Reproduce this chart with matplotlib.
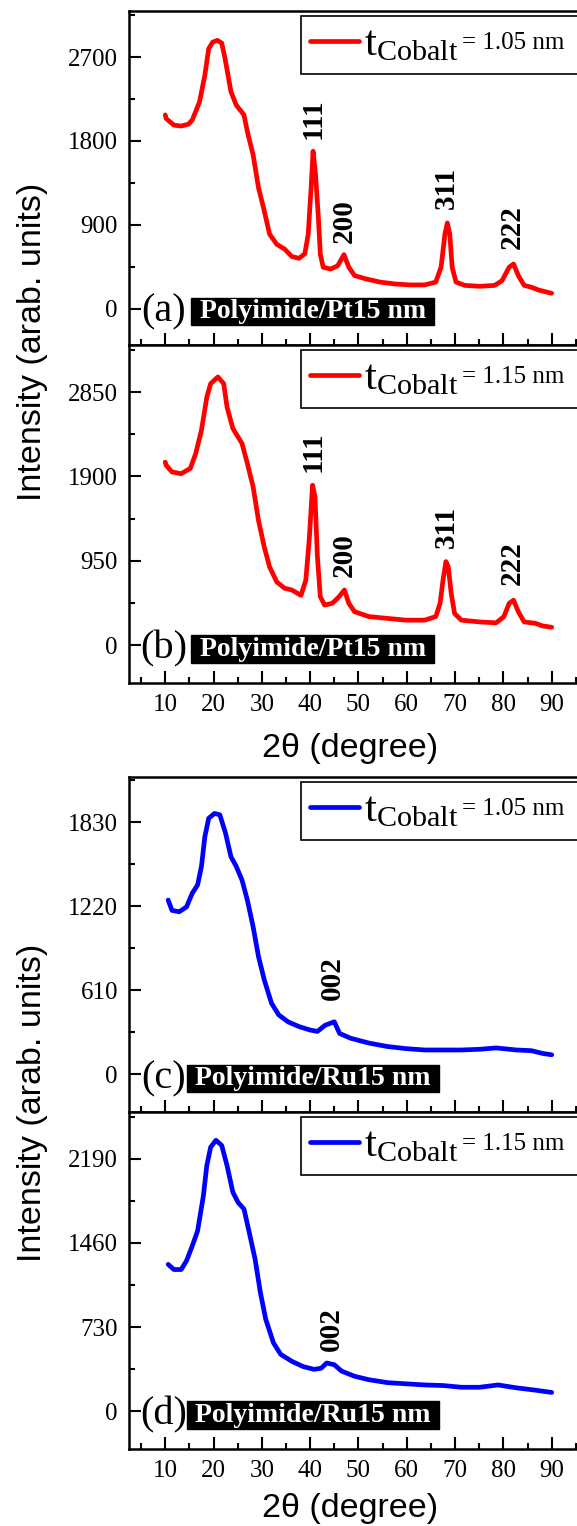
import numpy as np
import matplotlib
matplotlib.use("Agg")
import matplotlib.pyplot as plt
from matplotlib.ticker import MultipleLocator, AutoMinorLocator

# --- data (2theta in degree, intensity in arb. units) ---
pt_105_x = [10.0, 10.2, 11.8, 13.3, 14.8, 15.6, 17.1, 18.2, 19.0, 19.8, 20.8, 21.7, 22.4, 23.6,
            24.7, 26.3, 27.0, 28.2, 29.3, 30.5, 31.6, 33.1, 34.7, 36.2, 37.7, 38.9, 39.6, 40.2,
            40.6, 41.1, 41.7, 42.1, 42.7, 44.2, 45.7, 47.0, 48.0, 49.2, 51.5, 54.5, 57.6, 60.6,
            63.7, 66.0, 67.1, 67.9, 68.4, 68.9, 69.4, 70.2, 72.0, 75.1, 78.2, 79.7, 81.2, 82.1,
            83.1, 84.3, 85.8, 87.3, 88.8, 90.0]
pt_105_y = [2080, 2040, 1970, 1960, 1980, 2025, 2220, 2505, 2790, 2860, 2880, 2850, 2680, 2330,
            2185, 2080, 1900, 1650, 1300, 1050, 800, 690, 640, 560, 540, 590, 800, 1300,
            1690, 1450, 980, 585, 445, 425, 460, 580, 445, 355, 320, 285, 265, 255,
            255, 285, 445, 800, 920, 800, 445, 285, 250, 240, 250, 300, 445, 480,
            355, 250, 230, 200, 180, 165]

pt_115_x = [10.0, 10.2, 11.4, 13.3, 15.2, 16.3, 17.5, 18.6, 19.4, 20.9, 22.1, 22.8, 24.0, 25.9,
            27.0, 28.2, 29.3, 30.5, 31.6, 33.1, 34.7, 36.2, 38.1, 39.1, 39.8, 40.5, 41.0, 41.5,
            42.1, 43.0, 44.6, 46.0, 47.1, 48.0, 49.2, 52.2, 56.0, 59.8, 63.7, 66.0, 66.9, 67.5,
            68.1, 68.6, 69.2, 69.9, 71.3, 75.1, 78.5, 80.1, 81.2, 82.1, 83.1, 84.3, 86.6, 88.1,
            90.0]
pt_115_y = [2060, 2025, 1950, 1930, 1990, 2155, 2420, 2790, 2945, 3020, 2945, 2680, 2440, 2270,
            2045, 1780, 1405, 1105, 880, 710, 640, 620, 560, 730, 1180, 1800, 1670, 995,
            545, 450, 470, 545, 620, 470, 375, 320, 300, 280, 280, 320, 470, 730,
            940, 880, 580, 355, 280, 260, 250, 320, 470, 505, 375, 260, 245, 215,
            200]

ru_105_x = [10.6, 11.4, 12.9, 14.4, 15.6, 16.7, 17.5, 18.2, 19.0, 20.2, 21.3, 22.5, 23.6, 24.7,
            25.9, 27.0, 28.2, 29.3, 30.5, 32.0, 33.5, 35.4, 37.7, 40.0, 41.5, 43.1, 45.0, 46.1,
            48.4, 52.2, 56.0, 59.8, 63.7, 67.5, 71.3, 75.1, 78.5, 82.7, 85.8, 88.1, 90.0]
ru_105_y = [1265, 1190, 1180, 1215, 1315, 1375, 1510, 1725, 1860, 1895, 1885, 1750, 1580, 1510,
            1410, 1265, 1070, 855, 685, 515, 430, 380, 345, 320, 310, 355, 380, 295,
            260, 225, 200, 185, 175, 175, 175, 180, 190, 175, 170, 150, 140]

ru_115_x = [10.6, 11.8, 13.3, 14.4, 15.6, 16.7, 17.9, 18.6, 19.4, 20.5, 21.7, 22.8, 24.0, 25.1,
            26.3, 27.4, 28.6, 29.7, 30.8, 32.4, 33.9, 36.2, 38.5, 40.8, 42.3, 43.4, 45.0, 46.5,
            49.2, 52.2, 56.0, 59.8, 63.7, 67.5, 71.3, 75.1, 78.9, 82.7, 86.6, 90.0]
ru_115_y = [1275, 1230, 1230, 1305, 1435, 1565, 1870, 2130, 2290, 2350, 2305, 2130, 1900, 1810,
            1755, 1550, 1320, 1030, 800, 595, 495, 435, 390, 365, 375, 420, 405, 350,
            305, 275, 250, 240, 230, 225, 210, 210, 230, 205, 185, 165]

panel_tags = ["(a)", "(b)", "(c)", "(d)"]
substrates = ["Polyimide/Pt15 nm", "Polyimide/Pt15 nm", "Polyimide/Ru15 nm", "Polyimide/Ru15 nm"]
thickness = ["1.05 nm", "1.15 nm", "1.05 nm", "1.15 nm"]
yticks = [[0, 900, 1800, 2700], [0, 950, 1900, 2850], [0, 610, 1220, 1830], [0, 730, 1460, 2190]]
ylims = [(-390, 3195), (-428, 3380), (-276, 2160), (-325, 2595)]

# peak labels: (hkl, x, y of text start)
peaks = [
    [("111", 40.6, 1820), ("200", 47.0, 707), ("311", 68.1, 1070), ("222", 81.8, 640)],
    [("111", 40.6, 1948), ("200", 47.0, 766), ("311", 68.1, 1092), ("222", 81.8, 676)],
    [("002", 44.7, 538)],
    [("002", 44.4, 522)],
]

serif = "Liberation Serif"
sans = "Liberation Sans"

W, H = 577, 1526
fig = plt.figure(figsize=(W / 100, H / 100), dpi=100)

# axes boxes in pixels (top, bottom)
boxes = [(11, 345), (345, 683), (777, 1112), (1112, 1449)]
ax_left, ax_w = 129, 471

curves = [(pt_105_x, pt_105_y, "red"), (pt_115_x, pt_115_y, "red"),
          (ru_105_x, ru_105_y, "blue"), (ru_115_x, ru_115_y, "blue")]

for i, (top, bot) in enumerate(boxes):
    ax = fig.add_axes([ax_left / W, 1 - bot / H, ax_w / W, (bot - top) / H])
    xs, ys, col = curves[i]
    ax.plot(xs, ys, color=col, lw=3.4, solid_joinstyle="round", solid_capstyle="round",
            label=r"$\mathregular{t_{Cobalt}}$")

    ax.set_xlim(2.5, 100)
    ax.set_ylim(*ylims[i])
    ax.set_xticks(np.arange(10, 91, 10))
    ax.xaxis.set_minor_locator(MultipleLocator(5))
    ax.set_yticks(yticks[i])
    ax.yaxis.set_minor_locator(AutoMinorLocator(2))
    ax.tick_params(which="both", direction="in", top=False, right=False, width=1.5,
                   labelsize=18, pad=8)
    ax.tick_params(which="major", length=8.5)
    ax.tick_params(which="minor", length=4)
    for lab in ax.get_xticklabels() + ax.get_yticklabels():
        lab.set_family(serif)
    if i in (0, 2):
        ax.tick_params(labelbottom=False)
    for sp in ax.spines.values():
        sp.set_linewidth(1.8)

    for hkl, px, py in peaks[i]:
        ax.text(px, py, hkl, rotation=90, ha="center", va="bottom",
                fontsize=21, fontweight="bold", family=serif)

    ax.text(0.073, 0.10, panel_tags[i], transform=ax.transAxes, ha="center",
            va="center", fontsize=29, family=serif)
    ax.text(0.39, 0.10, " " + substrates[i] + " ", transform=ax.transAxes,
            ha="center", va="center", color="white", fontsize=20,
            fontweight="bold", family=serif,
            bbox=dict(boxstyle="square,pad=0.05", fc="black", ec="black"))

    leg_top = 1 - 5 / (bot - top)
    leg = ax.legend(loc="upper left", bbox_to_anchor=(0.365, 0.5, 1.0, leg_top - 0.5),
                    mode="expand", borderaxespad=0, fancybox=False, edgecolor="black",
                    framealpha=1, handlelength=1.12, handletextpad=0.12, borderpad=0.22,
                    prop={"family": serif, "size": 31})
    leg.get_frame().set_linewidth(1.2)
    ax.annotate("= " + thickness[i], xy=(1, 0), xycoords=leg.get_texts()[0],
                xytext=(3, 11.5), textcoords="offset points", ha="left", va="baseline",
                fontsize=18, family=serif, zorder=10)

# shared labels
for yc in (342, 1103):
    fig.text(33 / W, 1 - yc / H, "Intensity (arab. units)", rotation=90,
             ha="center", va="center", fontsize=24.5, family=sans)
for yc in (748, 1508):
    fig.text(350 / W, 1 - yc / H, "2\u03b8 (degree)", ha="center", va="center",
             fontsize=24.5, family=sans)

fig.savefig("out.png", dpi=100)
